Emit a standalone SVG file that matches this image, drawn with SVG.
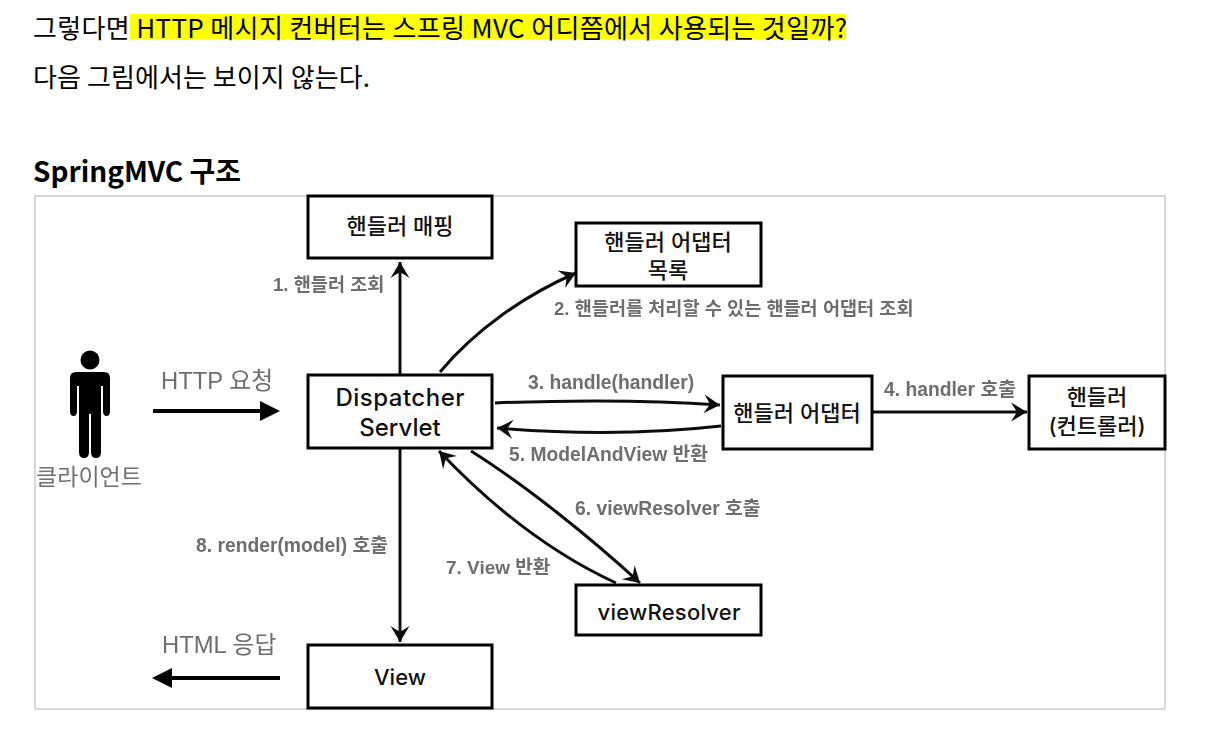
<svg xmlns="http://www.w3.org/2000/svg" width="1207" height="733" viewBox="0 0 1207 733">
<style>
.doc{font-family:"Noto Sans CJK KR",sans-serif;font-size:26px;fill:#000}
.box{fill:#fff;stroke:#000;stroke-width:3}
.n{font-family:Inter,"Noto Sans CJK KR",sans-serif;font-size:22px;font-weight:500;fill:#111;text-anchor:middle}
.l{font-family:"Liberation Sans","Noto Sans CJK KR",sans-serif;font-size:19.300px;font-weight:700;fill:#6e6e6e}
.k{font-size:18.600px}
.h{font-family:"Liberation Sans","Noto Sans CJK KR",sans-serif;font-size:23.800px;fill:#6e6e6e}
.c{fill:none;stroke:#111;stroke-width:3}
</style>
<defs>
<marker id="a" viewBox="0 0 20 22" refX="18" refY="11" markerWidth="20" markerHeight="22" markerUnits="userSpaceOnUse" orient="auto"><path d="M2 1.500L18 11L2 20.500L8 11Z" fill="#111"/></marker>
<filter id="soft" x="-5%" y="-5%" width="110%" height="110%"><feGaussianBlur stdDeviation="0.4"/></filter>
</defs>
<rect width="1207" height="733" fill="#fff"/>
<g id="doc">
<rect x="130" y="14" width="716" height="25" fill="#ff0"/>
<text class="doc" x="33" y="38" textLength="814" lengthAdjust="spacing">그렇다면 HTTP 메시지 컨버터는 스프링 MVC 어디쯤에서 사용되는 것일까?</text>
<text class="doc" x="33" y="87" textLength="337" lengthAdjust="spacing">다음 그림에서는 보이지 않는다.</text>
<text x="33" y="182" style="font-family:'Noto Sans CJK KR',sans-serif;font-size:28px;font-weight:700">SpringMVC 구조</text>
</g>
<rect id="frame" x="35" y="196" width="1130" height="513" fill="#fff" stroke="#d8d8d8" stroke-width="2"/>
<g id="connectors" filter="url(#soft)">
<path class="c" d="M400 374V262" marker-end="url(#a)"/>
<path class="c" d="M440 372C475 330 525 295 576 273" marker-end="url(#a)"/>
<path class="c" d="M495 403C570 400 650 400 720 405" marker-end="url(#a)"/>
<path class="c" d="M721 426C650 434 570 434 497 428" marker-end="url(#a)"/>
<path class="c" d="M873 412H1027" marker-end="url(#a)"/>
<path class="c" d="M471 451C525 485 590 537 640 583" marker-end="url(#a)"/>
<path class="c" d="M616 583C555 555 495 510 439 451" marker-end="url(#a)"/>
<path class="c" d="M400 449V642" marker-end="url(#a)"/>
<path d="M153 411H262" stroke="#000" stroke-width="4" fill="none"/>
<path d="M260 401L280 411L260 421Z" fill="#000"/>
<path d="M280 678H170" stroke="#000" stroke-width="4" fill="none"/>
<path d="M172 668L152 678L172 688Z" fill="#000"/>
</g>
<g id="client">
<circle cx="90" cy="360" r="9.500" fill="#000"/>
<path d="M76 372H104Q110 372 110 378V411Q110 416 106.500 416Q103 416 103 411V386H101V452Q101 458 96 458Q91 458 91 452V414H89V452Q89 458 84 458Q79 458 79 452V386H77V411Q77 416 73.500 416Q70 416 70 411V378Q70 372 76 372Z" fill="#000"/>
<text x="36" y="485" filter="url(#soft)" textLength="106" style="font-family:'Noto Sans CJK KR',sans-serif;font-size:23px;fill:#707070">클라이언트</text>
</g>
<g id="handler-mapping"><rect class="box" x="308" y="196" width="184" height="62"/><text class="n" x="400" y="234">핸들러 매핑</text></g>
<g id="adapter-list"><rect class="box" x="576" y="223" width="185" height="63"/><text class="n" x="668" y="250">핸들러 어댑터</text><text class="n" x="668" y="278">목록</text></g>
<g id="dispatcher"><rect class="box" x="308" y="375" width="184" height="73"/><text class="n" x="400" y="406" textLength="129" style="font-size:24px">Dispatcher</text><text class="n" x="400" y="436" style="font-size:24px">Servlet</text></g>
<g id="adapter"><rect class="box" x="723" y="376" width="149" height="73"/><text class="n" x="797" y="421">핸들러 어댑터</text></g>
<g id="handler"><rect class="box" x="1029" y="376" width="136" height="73"/><text class="n" x="1097" y="405">핸들러</text><text class="n" x="1097" y="434">(컨트롤러)</text></g>
<g id="view-resolver"><rect class="box" x="576" y="585" width="185" height="50"/><text class="n" x="669" y="620" textLength="143">viewResolver</text></g>
<g id="view"><rect class="box" x="308" y="645" width="184" height="63"/><text class="n" x="400" y="685">View</text></g>
<g id="labels" filter="url(#soft)">
<text class="l k" x="273" y="291">1. 핸들러 조회</text>
<text class="l k" x="554" y="315">2. 핸들러를 처리할 수 있는 핸들러 어댑터 조회</text>
<text class="l" x="528" y="389">3. handle(handler)</text>
<text class="l" x="884" y="396">4. handler 호출</text>
<text class="l" x="509" y="461">5. ModelAndView 반환</text>
<text class="l" x="575" y="515">6. viewResolver 호출</text>
<text class="l" x="446" y="574" style="font-size:19px">7. View 반환</text>
<text class="l" x="196" y="552">8. render(model) 호출</text>
<text class="h" x="161" y="389">HTTP 요청</text>
<text class="h" x="162" y="653">HTML 응답</text>
</g>
</svg>
